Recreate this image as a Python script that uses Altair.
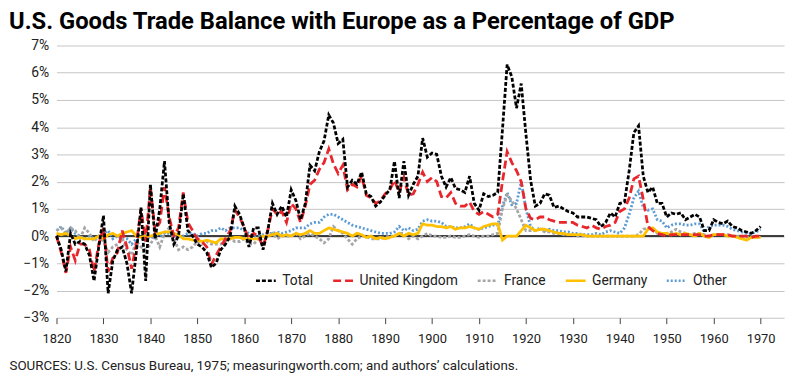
import altair as alt
import pandas as pd

years = list(range(1820, 1971))

total = [
    0.0, -0.5, -1.3, 0.1, -0.3, -0.2, -0.3, -0.7, -1.65, -0.4,
    0.75, -2.1, -0.9, -0.5, -0.4, -1.0, -2.1, -0.6, 1.05, -1.65,
    1.9, -0.1, 1.0, 2.75, 0.5, -0.3, 0.0, 1.55, 0.2, 0.0,
    -0.3, -0.4, -0.6, -1.15, -1.0, -0.5, -0.3, 0.0, 1.1, 0.8,
    0.3, -0.4, 0.3, 0.3, -0.5, 0.2, 1.2, 0.8, 1.1, 0.7,
    1.7, 1.3, 0.6, 1.2, 2.6, 2.4, 3.1, 3.5, 4.45, 4.15,
    3.4, 3.55, 1.8, 2.05, 1.9, 2.35, 1.55, 1.45, 1.1, 1.25,
    1.5, 1.7, 2.75, 1.4, 2.75, 1.5, 1.9, 2.2, 3.6, 2.9,
    3.05, 3.0, 2.2, 1.8, 2.15, 1.75, 1.7, 1.6, 2.2, 1.2,
    0.95, 1.55, 1.45, 1.5, 1.6, 3.9, 6.3, 5.85, 4.7, 5.6,
    3.75, 2.05, 1.1, 1.2, 1.55, 1.5, 1.05, 1.1, 1.0, 0.9,
    0.85, 0.7, 0.7, 0.7, 0.65, 0.6, 0.35, 0.5, 0.85, 0.7,
    1.2, 1.25, 2.4, 3.8, 4.05, 2.2, 1.6, 1.8, 1.2, 1.2,
    0.7, 0.85, 0.8, 0.85, 0.6, 0.7, 0.8, 0.7, 0.2, 0.2,
    0.6, 0.5, 0.45, 0.55, 0.35, 0.3, 0.2, 0.15, 0.1, 0.2,
    0.35,
]

uk = [
    0.0, -0.6, -1.35, -0.4, -0.9, -0.3, -0.3, -0.5, -1.3, -0.3,
    0.3, -1.3, -0.8, -0.6, 0.2, -0.4, -1.2, -0.3, 1.0, -0.2,
    1.8, 0.2, 0.5, 1.8, 0.7, 0.0, 0.3, 1.6, 0.5, 0.2,
    -0.1, -0.2, -0.4, -1.05, -0.7, -0.4, -0.1, 0.2, 0.95, 0.7,
    0.3, -0.1, 0.1, 0.0, -0.4, 0.2, 1.0, 0.8, 0.9, 0.5,
    1.2, 1.0, 0.5, 1.1, 1.9, 2.05, 2.45, 2.7, 3.2, 2.65,
    2.3, 2.6, 1.7, 1.9, 1.8, 2.2, 1.5, 1.4, 1.2, 1.3,
    1.55, 1.7, 2.05, 1.6, 2.15, 1.5, 1.55, 1.9, 2.35, 2.0,
    2.15, 2.0, 1.45, 1.4, 1.6, 1.2, 1.1, 1.1, 1.25, 0.9,
    0.8, 0.9, 0.8, 0.7, 0.8, 2.0, 3.1, 2.7, 2.4, 2.0,
    1.0, 0.65, 0.6, 0.7, 0.7, 0.6, 0.55, 0.5, 0.5, 0.5,
    0.5, 0.4, 0.35, 0.3, 0.4, 0.3, 0.25, 0.35, 0.4, 0.5,
    0.9, 1.0, 1.4, 2.1, 2.2, 1.35, 0.35, 0.2, 0.1, 0.05,
    0.0, 0.05, 0.05, 0.05, 0.05, 0.05, 0.05, 0.05, 0.0, 0.0,
    0.05, 0.05, 0.05, 0.05, 0.0, 0.0, 0.0, 0.0, -0.05, 0.0,
    0.0,
]

france = [
    0.2, 0.3, 0.1, 0.3, 0.2, -0.1, 0.3, 0.1, -0.2, 0.0,
    -0.2, -0.6, -0.4, -0.3, -0.1, -0.5, -0.7, -0.2, -0.4, -0.5,
    -0.3, 0.0, -0.4, 0.1, 0.3, -0.1, -0.5, -0.4, -0.5, -0.4,
    -0.2, -0.3, -0.2, -0.3, -0.3, -0.3, -0.2, -0.1, -0.2, -0.2,
    -0.1, -0.3, -0.3, -0.1, 0.0, 0.0, 0.1, -0.1, 0.0, 0.0,
    0.0, 0.1, -0.1, 0.0, 0.1, 0.0, -0.1, -0.25, -0.1, 0.35,
    0.2, 0.1, -0.1, -0.3, -0.1, 0.0, 0.0, -0.1, -0.1, -0.1,
    -0.05, 0.0, 0.0, 0.1, 0.1, -0.1, 0.0, -0.1, 0.0, 0.1,
    0.0, 0.0, -0.05, -0.05, 0.0, -0.05, -0.05, 0.0, 0.05, 0.0,
    -0.05, 0.0, 0.0, 0.05, 0.1, 1.0, 1.5, 1.3, 1.0, 0.6,
    0.2, 0.2, 0.2, 0.25, 0.15, 0.15, 0.1, 0.1, 0.05, 0.05,
    0.05, 0.0, 0.0, 0.0, 0.0, 0.0, 0.0, 0.0, 0.0, 0.0,
    0.0, 0.0, 0.0, 0.0, 0.05, 0.25, 0.3, 0.3, 0.1, 0.1,
    0.1, 0.15, 0.25, 0.15, 0.1, 0.05, 0.1, 0.1, 0.05, 0.0,
    0.05, 0.05, 0.05, 0.05, 0.0, 0.0, 0.0, -0.05, 0.0, -0.05,
    -0.05,
]

germany = [
    0.1, 0.05, 0.1, 0.0, -0.1, -0.05, -0.1, -0.1, -0.1, 0.0,
    -0.1, 0.05, 0.1, 0.0, 0.1, 0.15, 0.2, 0.0, -0.05, 0.0,
    0.0, 0.05, 0.1, 0.15, 0.15, 0.1, 0.05, -0.1, -0.1, -0.15,
    -0.15, -0.2, -0.15, -0.2, -0.25, -0.1, -0.1, -0.1, -0.05, -0.05,
    -0.1, -0.1, -0.1, -0.1, 0.0, 0.0, 0.05, 0.1, 0.0, 0.05,
    0.0, 0.1, 0.05, 0.1, 0.2, 0.1, 0.1, 0.2, 0.3, 0.25,
    0.2, 0.15, 0.1, 0.0, 0.1, 0.05, -0.05, 0.0, -0.1, -0.05,
    -0.1, -0.05, 0.0, 0.1, 0.0, 0.1, 0.05, 0.1, 0.45, 0.4,
    0.4, 0.35, 0.35, 0.3, 0.35, 0.25, 0.3, 0.3, 0.35, 0.3,
    0.25, 0.35, 0.4, 0.45, 0.45, -0.15, 0.0, 0.0, 0.0, 0.2,
    0.4, 0.3, 0.2, 0.25, 0.25, 0.2, 0.15, 0.1, 0.1, 0.05,
    0.05, 0.05, 0.05, 0.0, 0.0, 0.0, 0.0, 0.0, 0.0, 0.0,
    0.0, 0.0, 0.0, 0.0, 0.0, 0.0, 0.25, 0.3, 0.15, 0.1,
    0.1, 0.05, 0.1, 0.05, 0.1, 0.05, 0.0, 0.1, 0.0, -0.05,
    0.05, 0.05, 0.05, 0.0, 0.0, -0.05, -0.1, -0.15, -0.05, -0.05,
    -0.05,
]

other = [
    0.2, 0.35, 0.1, 0.3, 0.1, 0.0, -0.1, 0.0, -0.1, 0.0,
    0.1, 0.2, -0.1, 0.0, -0.1, -0.1, -0.3, -0.1, -0.1, 0.0,
    -0.1, 0.1, 0.0, 0.1, 0.1, 0.0, 0.0, 0.0, 0.1, 0.1,
    0.0, 0.1, 0.1, 0.2, 0.2, 0.3, 0.2, 0.3, 0.3, 0.3,
    0.2, 0.1, 0.0, 0.0, 0.05, 0.1, 0.1, 0.15, 0.1, 0.15,
    0.2, 0.3, 0.3, 0.3, 0.45, 0.5, 0.5, 0.7, 0.8, 0.8,
    0.7, 0.6, 0.5, 0.4, 0.35, 0.3, 0.25, 0.2, 0.15, 0.1,
    0.1, 0.1, 0.15, 0.35, 0.2, 0.3, 0.2, 0.25, 0.55, 0.6,
    0.55, 0.55, 0.5, 0.35, 0.35, 0.3, 0.3, 0.35, 0.45, 0.3,
    0.25, 0.3, 0.35, 0.4, 0.4, 1.1, 1.6, 1.15, 1.2, 2.0,
    1.0, 0.35, 0.2, 0.3, 0.2, 0.25, 0.2, 0.2, 0.15, 0.15,
    0.1, 0.1, 0.05, 0.05, 0.05, 0.1, 0.05, 0.15, 0.2, 0.15,
    0.1, 0.3, 0.8, 1.4, 1.65, 1.05, 0.95, 1.0, 0.6, 0.55,
    0.3, 0.4, 0.45, 0.45, 0.4, 0.4, 0.45, 0.45, 0.15, 0.35,
    0.4, 0.4, 0.4, 0.35, 0.25, 0.2, 0.15, 0.1, 0.1, 0.15,
    0.25,
]

series_names = ["Total", "United Kingdom", "France", "Germany", "Other"]
series_values = [total, uk, france, germany, other]
colors = ["#000000", "#E8262B", "#A6A6A6", "#FFC000", "#5B9BD5"]
dashes = [[4, 2], [8, 4], [3, 2], [1, 0], [2, 2]]
draw_order = ["Other", "France", "Germany", "United Kingdom", "Total"]
x_ticks = list(range(1820, 1971, 10))
y_ticks = list(range(-3, 8))

title_text = "U.S. Goods Trade Balance with Europe as a Percentage of GDP"
source_text = "SOURCES: U.S. Census Bureau, 1975; measuringworth.com; and authors\u2019 calculations."

rows = []
for name, vals in zip(series_names, series_values):
    for yr, v in zip(years, vals):
        rows.append({"year": yr, "value": v, "series": name})
df = pd.DataFrame(rows)

legend = alt.Legend(
    title=None, orient="none", legendX=200, legendY=226, direction="horizontal",
    symbolType="stroke", symbolSize=400, symbolStrokeWidth=2.5,
    labelFontSize=14, labelFont="Roboto", labelColor="#222",
    columnPadding=14, labelOffset=5, padding=0,
)

x_enc = alt.X(
    "year:Q",
    scale=alt.Scale(domain=[1820, 1975], nice=False, zero=False),
    axis=alt.Axis(
        values=x_ticks, format="d", grid=False, domain=False, ticks=True,
        tickSize=6, tickColor="#444", labelFontSize=13, labelFont="Roboto",
        labelColor="#222", labelPadding=9, labelFlush=False, labelOverlap=False,
        title=source_text, titleAnchor="start", titleX=-48, titleY=52,
        titleAlign="left", titleBaseline="alphabetic", titleFontSize=13.5,
        titleFont="Roboto", titleFontWeight="normal", titleColor="#222",
    ),
)
y_axis = alt.Axis(
    values=y_ticks, labelExpr="format(datum.value, 'd') + '%'",
    grid=True, gridColor="#c4c4c4", gridWidth=1, domain=False, ticks=False,
    labelPadding=8, labelFontSize=14, labelFont="Roboto", labelColor="#222",
    labelOverlap=False, title=None,
)
y_enc = alt.Y("value:Q", scale=alt.Scale(domain=[-3, 7], nice=False), axis=y_axis)
color_enc = alt.Color("series:N", scale=alt.Scale(domain=series_names, range=colors), legend=legend)
dash_enc = alt.StrokeDash("series:N", scale=alt.Scale(domain=series_names, range=dashes), legend=legend)

zero = alt.Chart(pd.DataFrame({"value": [0]})).mark_rule(color="black", strokeWidth=1.5).encode(y=y_enc)

layers = [zero]
for s in draw_order:
    layers.append(
        alt.Chart(df).transform_filter(alt.datum.series == s)
        .mark_line(strokeWidth=2.8)
        .encode(x=x_enc, y=y_enc, color=color_enc, strokeDash=dash_enc)
    )

chart = alt.layer(*layers).properties(
    width=735, height=275,
    autosize=alt.AutoSizeParams(type="none"),
    padding={"left": 49, "top": 36, "right": 8, "bottom": 60},
    title=alt.TitleParams(
        text=title_text, anchor="start", frame="group", dx=-48, offset=5,
        fontSize=24, fontWeight="bold", font="Roboto", color="#000",
    ),
).configure_view(stroke=None)

chart.save("out.html", embed_options={"renderer": "svg", "actions": False})
